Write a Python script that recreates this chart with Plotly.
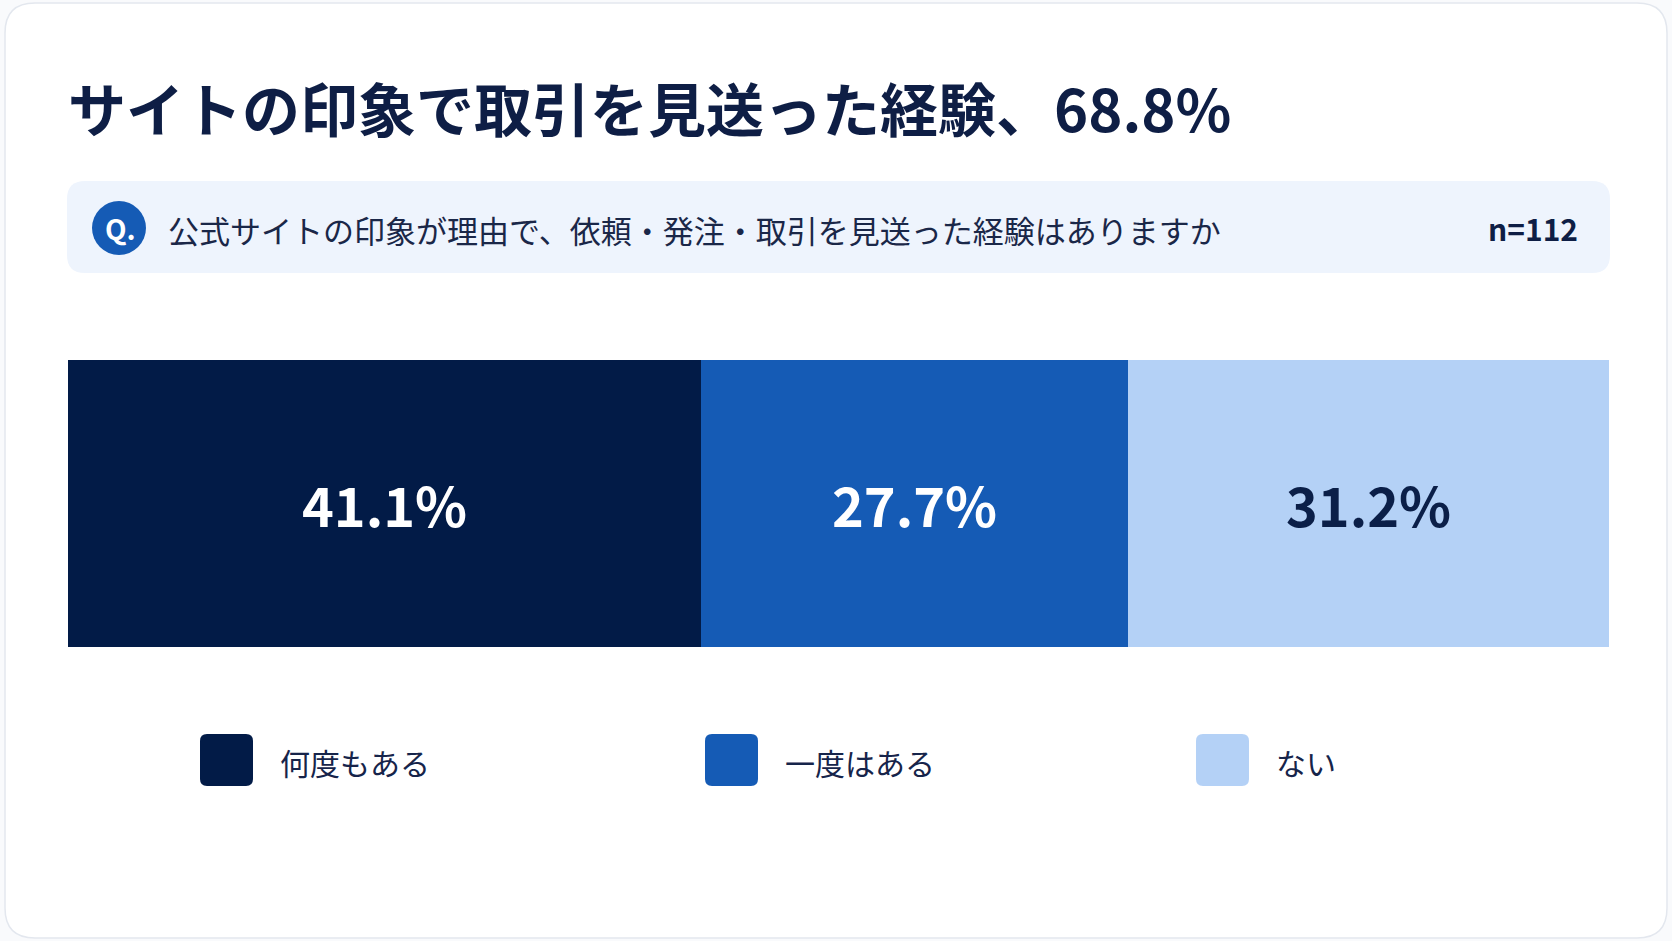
import plotly.graph_objects as go

# ---- data ----
categories = ["何度もある", "一度はある", "ない"]
values = [41.1, 27.7, 31.2]
colors = ["#021B47", "#155BB5", "#B4D1F6"]
label_colors = ["#FFFFFF", "#FFFFFF", "#0B1F48"]
title_text = "サイトの印象で取引を見送った経験、68.8%"
question_text = "公式サイトの印象が理由で、依頼・発注・取引を見送った経験はありますか"
n_text = "n=112"

W, H = 1672, 941
FONT = "Noto Sans CJK JP"
NAVY = "#0E1E45"


def px(x):
    return x / W


def py(y):
    return 1 - y / H


def rrect(x0, y0, x1, y1, r):
    X0, X1 = px(x0), px(x1)
    Y0, Y1 = py(y0), py(y1)
    rx, ry = r / W, r / H
    return (f"M{X0+rx},{Y0} L{X1-rx},{Y0} Q{X1},{Y0} {X1},{Y0-ry} "
            f"L{X1},{Y1+ry} Q{X1},{Y1} {X1-rx},{Y1} L{X0+rx},{Y1} "
            f"Q{X0},{Y1} {X0},{Y1+ry} L{X0},{Y0-ry} Q{X0},{Y0} {X0+rx},{Y0} Z")


fig = go.Figure()
for cat, val, col, lc in zip(categories, values, colors, label_colors):
    fig.add_trace(go.Bar(
        x=[val], y=[0], orientation="h", name=cat,
        marker=dict(color=col, line=dict(width=0)),
        text=[f"{val:.1f}%"], textposition="inside", insidetextanchor="middle",
        textfont=dict(family=FONT, size=54, color=lc, weight=700),
        hoverinfo="skip", showlegend=False,
    ))

shapes = []
# card
shapes.append(dict(type="path", xref="paper", yref="paper", path=rrect(5, 3, 1667, 938, 30),
                   fillcolor="#FFFFFF", line=dict(color="#E3E7EE", width=1.5), layer="below"))
# question box
shapes.append(dict(type="path", xref="paper", yref="paper", path=rrect(67, 181, 1610, 273, 18),
                   fillcolor="#EEF4FD", line=dict(width=0), layer="below"))
# Q circle
shapes.append(dict(type="circle", xref="paper", yref="paper",
                   x0=px(119 - 27), x1=px(119 + 27), y0=py(228 + 27), y1=py(228 - 27),
                   fillcolor="#155BB5", line=dict(width=0), layer="above"))

annotations = []
annotations.append(dict(text=f"<b>{title_text}</b>", xref="paper", yref="paper",
                        x=px(66), y=py(107), xanchor="left", yanchor="middle", showarrow=False,
                        font=dict(family=FONT, size=58, color=NAVY)))
annotations.append(dict(text="<b>Q.</b>", xref="paper", yref="paper", x=px(120), y=py(228),
                        xanchor="center", yanchor="middle", showarrow=False,
                        font=dict(family=FONT, size=28, color="#FFFFFF")))
annotations.append(dict(text=question_text, xref="paper", yref="paper", x=px(166), y=py(229),
                        xanchor="left", yanchor="middle", showarrow=False,
                        font=dict(family=FONT, size=31, color="#1A2748")))
annotations.append(dict(text=f"<b>{n_text}</b>", xref="paper", yref="paper", x=px(1580), y=py(228),
                        xanchor="right", yanchor="middle", showarrow=False,
                        font=dict(family=FONT, size=30, color=NAVY)))

# legend (manual)
leg_box_x = [200, 705, 1196]
for cat, col, bx in zip(categories, colors, leg_box_x):
    shapes.append(dict(type="path", xref="paper", yref="paper",
                       path=rrect(bx, 734, bx + 53, 786, 7),
                       fillcolor=col, line=dict(width=0)))
    annotations.append(dict(text=cat, xref="paper", yref="paper", x=px(bx + 78), y=py(762),
                            xanchor="left", yanchor="middle", showarrow=False,
                            font=dict(family=FONT, size=30, color="#16244A")))

fig.update_layout(
    width=W, height=H, margin=dict(l=0, r=0, t=0, b=0),
    paper_bgcolor="#F9FAFC", plot_bgcolor="rgba(0,0,0,0)",
    barmode="stack", bargap=0,
    xaxis=dict(domain=[px(68), px(1609)], range=[0, 100], visible=False, fixedrange=True),
    yaxis=dict(domain=[py(647), py(360)], range=[-0.5, 0.5], visible=False, fixedrange=True),
    shapes=shapes, annotations=annotations,
    font=dict(family=FONT),
)

fig.write_html("out.html", config={"displayModeBar": False},
               post_script="document.body.style.margin='0';")
